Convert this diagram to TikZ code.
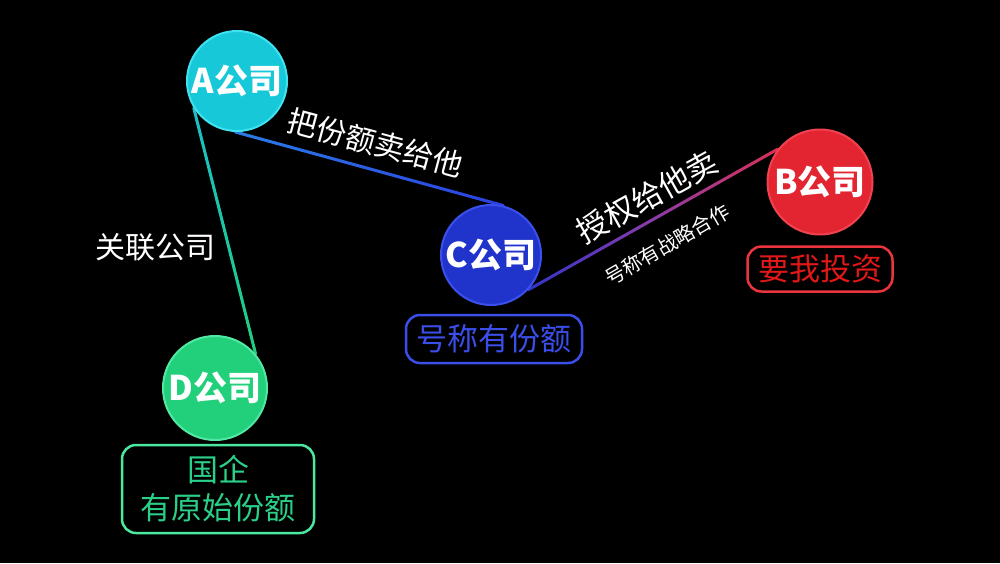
\documentclass[tikz,border=0pt]{standalone}
\usepackage{fontspec}
\setmainfont{Noto Sans CJK SC}
\usetikzlibrary{calc}
\pgfdeclarelayer{bg}
\pgfdeclarelayer{lines}
\pgfsetlayers{bg,lines,main}
\definecolor{Afill}{HTML}{17C8D8}
\definecolor{Aline}{HTML}{40E2F0}
\definecolor{Cfill}{HTML}{2034CC}
\definecolor{Cline}{HTML}{3A50EA}
\definecolor{Bfill}{HTML}{E22530}
\definecolor{Bline}{HTML}{F24250}
\definecolor{Dfill}{HTML}{22D07C}
\definecolor{Dline}{HTML}{50E8A2}
\definecolor{Ctext}{HTML}{3A4EEA}
\definecolor{Btext}{HTML}{E01818}
\definecolor{Bbox}{HTML}{EA343E}
\definecolor{Dtext}{HTML}{2AD088}
\definecolor{Dbox}{HTML}{4AE8A0}
\definecolor{gTeal}{HTML}{18C0C8}
\definecolor{gGreen}{HTML}{22CC80}
\definecolor{gSky}{HTML}{2A7CE6}
\definecolor{gBlue}{HTML}{2C40E0}
\definecolor{gBlue2}{HTML}{3034C8}
\definecolor{gPurple}{HTML}{8A3CA8}
\definecolor{gRed}{HTML}{D83058}
\newcommand\gradseg[4]{%
  \foreach \i in {0,...,39}{%
    \pgfmathsetmacro\ps{\i/40}%
    \pgfmathsetmacro\pe{(\i+1)/40}%
    \pgfmathsetmacro\pc{100*(\i+0.5)/40}%
    \draw[connector, draw={#4!\pc!#3}] ($(#1)!\ps!(#2)$) -- ($(#1)!\pe!(#2)$);
  }}
\begin{document}
\begin{tikzpicture}[x=1pt,y=-1pt,
  company/.style={circle, inner sep=0pt, line width=2pt, text=white,
    font=\bfseries\fontsize{34}{34}\selectfont},
  tagbox/.style={draw, rounded corners=14pt, line width=2.5pt, align=center,
    inner sep=0pt, font=\fontsize{31}{38}\selectfont},
  lbl/.style={text=white, inner sep=0pt},
  connector/.style={line width=3pt, line cap=round}]
\begin{pgfonlayer}{bg}
\fill[black] (0,0) rectangle (1000,563);
\end{pgfonlayer}
\useasboundingbox (0,0) rectangle (1000,563);

\node[company, fill=Afill, draw=Aline, minimum size=100pt] (A) at (237,81) {A公司};
\node[company, fill=Cfill, draw=Cline, minimum size=100pt] (C) at (491,255) {C公司};
\node[company, fill=Bfill, draw=Bline, minimum size=105pt] (B) at (820,182) {B公司};
\node[company, fill=Dfill, draw=Dline, minimum size=104pt] (D) at (215,388) {D公司};

\node[tagbox, draw=Ctext, text=Ctext, minimum width=176pt, minimum height=48pt] (Cb) at (494,339) {号称有份额};
\node[tagbox, draw=Bbox, text=Btext, minimum width=145pt, minimum height=45pt] (Bb) at (820,269) {要我投资};
\node[tagbox, draw=Dbox, text=Dtext, minimum width=192pt, minimum height=88pt] (Db) at (218,489) {国企\\有原始份额};

\coordinate (mCB) at ($(C.-43)!0.5!(B.142)$);
\begin{pgfonlayer}{lines}
\gradseg{A.212}{D.40}{gTeal}{gGreen}
\gradseg{A.268}{C.76}{gSky}{gBlue}
\gradseg{C.-43}{mCB}{gBlue2}{gPurple}
\gradseg{mCB}{B.142}{gPurple}{gRed}
\end{pgfonlayer}

\node[lbl, font=\fontsize{30}{30}\selectfont] (l1) at (155,247) {关联公司};
\node[lbl, font=\fontsize{30}{30}\selectfont, rotate=-15] (l2) at (375,143) {把份额卖给他};
\node[lbl, font=\fontsize{31}{31}\selectfont, rotate=29] (l3) at (647,197) {授权给他卖};
\node[lbl, font=\fontsize{20}{20}\selectfont, rotate=30] (l4) at (667,245) {号称有战略合作};
\end{tikzpicture}
\end{document}
